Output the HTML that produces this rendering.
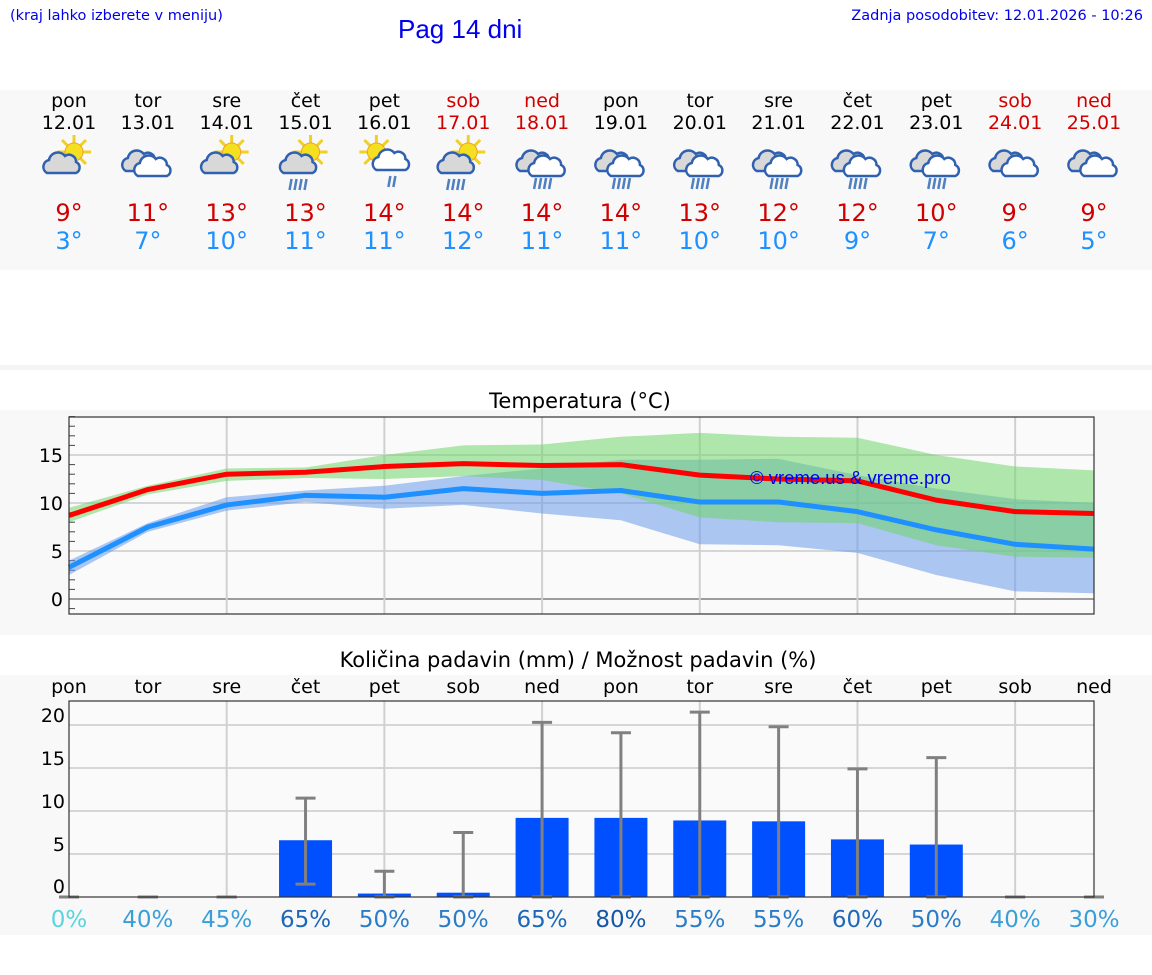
<!DOCTYPE html>
<html><head><meta charset="utf-8">
<style>
body{margin:0;width:1152px;height:975px;background:#fff;font-family:"DejaVu Sans","Liberation Sans",sans-serif;overflow:hidden;position:relative}
.abs{position:absolute}
</style></head>
<body>
<div class="abs" style="left:10px;top:8px;font-size:14.5px;color:#0000ee;font-family:'DejaVu Sans',sans-serif">(kraj lahko izberete v meniju)</div>
<div class="abs" style="left:398px;top:14px;font-size:26px;color:#0000ee;font-family:'Liberation Sans',sans-serif">Pag 14 dni</div>
<div class="abs" style="right:9px;top:8px;font-size:14.5px;color:#0000ee;font-family:'DejaVu Sans',sans-serif">Zadnja posodobitev: 12.01.2026 - 10:26</div>
<svg class="abs" style="left:0;top:0" width="1152" height="975" id="main">
<defs>
<g id="sun"><g stroke="#f0d020" stroke-width="3"><line x1="0" y1="-17" x2="0" y2="17"/><line x1="-17" y1="0" x2="17" y2="0"/><line x1="-12" y1="-12" x2="12" y2="12"/><line x1="-12" y1="12" x2="12" y2="-12"/></g><circle r="9" fill="#f5e020" stroke="#f0a030" stroke-width="1"/></g>
<path id="cloud" d="M-16,8 a7,7 0 0 1 2,-13 a9,9 0 0 1 16,-4 a7,7 0 0 1 11,6 a6,6 0 0 1 0,11 z" stroke="#3060b0" stroke-width="2.5"/>
<g id="rain" stroke="#5080c0" stroke-width="2.5"><line x1="-6" y1="0" x2="-8" y2="11"/><line x1="-1" y1="0" x2="-3" y2="11"/><line x1="4" y1="0" x2="2" y2="11"/><line x1="9" y1="0" x2="7" y2="11"/></g>
<g id="rain2" stroke="#5080c0" stroke-width="2.5"><line x1="-2" y1="0" x2="-4" y2="11"/><line x1="3" y1="0" x2="1" y2="11"/></g>
</defs>
<rect x="0" y="90" width="1152" height="180" fill="#f8f8f8"/>
<rect x="0" y="365" width="1152" height="5" fill="#f4f4f4"/>
<rect x="0" y="410" width="1152" height="225" fill="#f8f8f8"/>
<rect x="0" y="675" width="1152" height="260" fill="#f8f8f8"/>
<g id="days"></g>
<text x="580" y="408" font-size="21" text-anchor="middle" fill="#000">Temperatura (°C)</text>
<rect x="69" y="417" width="1025" height="197" fill="#fafafa"/>
<g id="tchart"></g>
<text x="578" y="667" font-size="21" text-anchor="middle" fill="#000">Količina padavin (mm) / Možnost padavin (%)</text>
<rect x="69" y="701" width="1025" height="196" fill="#fafafa"/>
<g id="pchart"></g>
</svg>
<script>
const dayNames=["pon","tor","sre","čet","pet","sob","ned","pon","tor","sre","čet","pet","sob","ned"];
const dates=["12.01","13.01","14.01","15.01","16.01","17.01","18.01","19.01","20.01","21.01","22.01","23.01","24.01","25.01"];
const icons=[0,1,0,2,3,2,4,4,4,4,4,4,1,1];
const hiLabels=[9,11,13,13,14,14,14,14,13,12,12,10,9,9];
const loLabels=[3,7,10,11,11,12,11,11,10,10,9,7,6,5];
const tMax=[8.7,11.4,13.0,13.2,13.8,14.1,13.9,14.0,12.9,12.5,12.3,10.3,9.1,8.9];
const tMin=[3.3,7.5,9.8,10.8,10.6,11.5,11.0,11.3,10.1,10.1,9.1,7.2,5.7,5.2];
const maxHi=[9.5,11.8,13.6,13.7,15.0,16.0,16.1,16.9,17.3,16.9,16.8,15.0,13.8,13.4];
const maxLo=[8.0,10.9,12.3,12.6,12.5,12.8,12.4,11.0,8.5,8.0,7.9,5.6,4.4,4.3];
const minHi=[4.0,7.9,10.6,11.3,11.8,12.8,13.6,14.5,14.5,14.6,12.9,11.5,10.4,10.0];
const minLo=[2.5,7.0,9.2,10.1,9.4,9.8,8.9,8.2,5.7,5.6,4.8,2.5,0.8,0.6];
const tTicks=[0,5,10,15];
const rain=[0,0,0,6.6,0.4,0.5,9.2,9.2,8.9,8.8,6.7,6.1,0,0];
const rainHi=[0,0,0,11.5,3.0,7.5,20.3,19.1,21.5,19.8,14.9,16.2,0,0];
const rainLo=[0,0,0,1.5,0,0,0,0,0,0,0,0,0,0];
const probs=[0,40,45,65,50,50,65,80,55,55,60,50,40,30];
const pTicks=[0,5,10,15,20];
const NS="http://www.w3.org/2000/svg";
function el(p,t,a,txt){const e=document.createElementNS(NS,t);for(const k in a)e.setAttribute(k,a[k]);if(txt!==undefined)e.textContent=txt;p.appendChild(e);return e;}
const X=i=>69+i*(1025/13);
const Ty=v=>599-9.6*v;
const Py=v=>897-8.6*v;
const days=document.getElementById('days');
function use(g,id,x,y,extra){const u=el(g,'use',Object.assign({href:'#'+id,x:x,y:y},extra||{}));return u;}
dayNames.forEach((d,i)=>{
 const x=X(i),we=(i%7==5||i%7==6);const c=we?'#d00000':'#000';
 const g=el(days,'g',{});
 
 
 el(g,'text',{x:x,y:107,'font-size':19,'text-anchor':'middle',fill:c},d);
 el(g,'text',{x:x,y:129,'font-size':19,'text-anchor':'middle',fill:c},dates[i]);
 const ic=el(g,'g',{});
 
 
 const t=icons[i];
 if(t==0||t==2){use(ic,'sun',x+5,152);use(ic,'cloud',x-6,165,{fill:'#d8d8d8'});}
 if(t==3){use(ic,'sun',x-8,152);use(ic,'cloud',x+8,162,{fill:'#fff'});use(ic,'rain2',x+8,176);}
 if(t==2)use(ic,'rain',x-8,179);
 if(t==1||t==4){use(ic,'cloud',x-6,163,{fill:'#d8d8d8'});use(ic,'cloud',x+6,168,{fill:'#fff'});}
 if(t==4)use(ic,'rain',x,178);
 el(g,'text',{x:x,y:221,'font-size':24,'text-anchor':'middle',fill:'#d00000'},hiLabels[i]+'°');
 el(g,'text',{x:x,y:249,'font-size':24,'text-anchor':'middle',fill:'#1e90ff'},loLabels[i]+'°');
});
const tc=document.getElementById('tchart');
for(let v=-1;v<=19;v++)el(tc,'line',{x1:69,x2:75,y1:Ty(v),y2:Ty(v),stroke:'#444','stroke-width':1});
tTicks.forEach(v=>{el(tc,'line',{x1:69,x2:1094,y1:Ty(v),y2:Ty(v),stroke:v==0?'#666':'#d6d6d6','stroke-width':v==0?1.2:2});
 el(tc,'text',{x:63,y:Ty(v)+7,'font-size':19,'text-anchor':'end',fill:'#000'},v);});
for(let i=2;i<13;i+=2)el(tc,'line',{x1:X(i),x2:X(i),y1:417,y2:614,stroke:'#d0d0d0','stroke-width':2});
function band(hi,lo,fill,name){let d='M'+hi.map((v,i)=>X(i)+','+Ty(v)).join(' L')+' L'+lo.map((v,i)=>X(i)+','+Ty(v)).reverse().join(' L')+'Z';
 const p=el(tc,'path',{d:d,fill:fill,'fill-opacity':0.55});
 
 }
band(minHi,minLo,'#6a9ae8','min-temp-range');
band(maxHi,maxLo,'#6fd66a','max-temp-range');
function line(arr,col,name){const p=el(tc,'polyline',{points:arr.map((v,i)=>X(i)+','+Ty(v)).join(' '),fill:'none',stroke:col,'stroke-width':5,'stroke-linejoin':'round'});
 
 }
line(tMin,'#1e90ff','min-temp-line');
line(tMax,'#ff0000','max-temp-line');
const cp=el(tc,'text',{x:750,y:484,'font-size':18.5,fill:'#0000ee','font-family':'Liberation Sans, sans-serif'},'© vreme.us & vreme.pro');


el(tc,'rect',{x:69,y:417,width:1025,height:197,fill:'none',stroke:'#333','stroke-width':1.2});
const pc=document.getElementById('pchart');
pTicks.forEach(v=>{if(v>0)el(pc,'line',{x1:69,x2:1094,y1:Py(v),y2:Py(v),stroke:'#d6d6d6','stroke-width':2});
 el(pc,'text',{x:65,y:Py(v)+(v==0?-4:-3),'font-size':19,'text-anchor':'end',fill:'#000'},v);});
for(let i=2;i<13;i+=2)el(pc,'line',{x1:X(i),x2:X(i),y1:701,y2:897,stroke:'#d0d0d0','stroke-width':2});
dayNames.forEach((d,i)=>el(pc,'text',{x:X(i),y:693,'font-size':19,'text-anchor':'middle',fill:'#000'},d));
const pcol=p=>p==0?'#5bd3e0':p<50?'#3a9fd8':p<60?'#2a7cc6':p<80?'#1e68b8':'#1558a8';
rain.forEach((v,i)=>{const x=X(i);
 if(v>0){const b=el(pc,'rect',{x:x-26.5,y:Py(v),width:53,height:897-Py(v),fill:'#0050ff'});
  
  }
 const g=el(pc,'g',{stroke:'#808080','stroke-width':3});
 
 
 el(g,'line',{x1:x,x2:x,y1:Py(rainHi[i]),y2:Py(rainLo[i])});
 el(g,'line',{x1:x-10,x2:x+10,y1:Py(rainHi[i]),y2:Py(rainHi[i])});
 el(g,'line',{x1:x-10,x2:x+10,y1:Py(rainLo[i]),y2:Py(rainLo[i])});
 const t=el(pc,'text',{x:x,y:927,'font-size':23,'text-anchor':'middle',fill:pcol(probs[i])},probs[i]+'%');
 
 
});
el(pc,'rect',{x:69,y:701,width:1025,height:196,fill:'none',stroke:'#333','stroke-width':1.2});
</script>
</body></html>
